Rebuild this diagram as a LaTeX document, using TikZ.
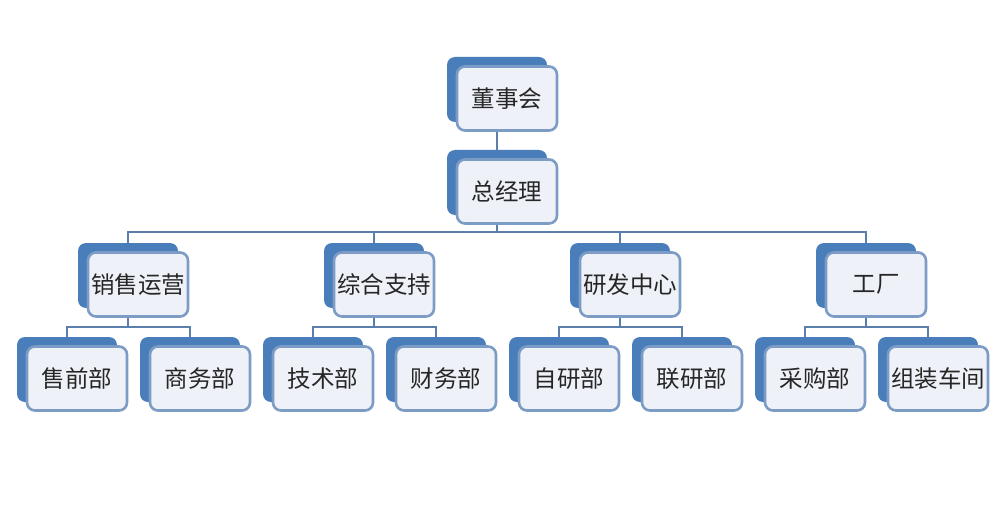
\documentclass[tikz,border=0pt]{standalone}
\usepackage{fontspec}
\newfontfamily\cjk{Noto Sans CJK SC}
\usetikzlibrary{backgrounds}
\definecolor{backblue}{HTML}{4A7EBB}
\definecolor{frontfill}{HTML}{EEF2F8}
\definecolor{frontline}{HTML}{7C9CC6}
\definecolor{linkblue}{HTML}{5B7FAD}
\begin{document}
\begin{tikzpicture}[x=1pt,y=-1pt,
  backbox/.style={rectangle,rounded corners=8pt,fill=backblue,minimum width=100pt,minimum height=65pt,inner sep=0pt},
  frontbox/.style={rectangle,rounded corners=8pt,fill=frontfill,draw=frontline,line width=2.6pt,minimum width=100pt,minimum height=64pt,inner sep=0pt,font=\cjk\fontsize{23.5}{25}\selectfont,text=black!85},
  link/.style={draw=linkblue,line width=2.8pt}]
\useasboundingbox (0,0) rectangle (1006,505);
% top
\node[backbox] (b0) at (497,89.5) {};
\node[frontbox] (f0) at (507,98.5) {董事会};
\node[backbox] (b1) at (497,182.5) {};
\node[frontbox] (f1) at (507,191.5) {总经理};
% level 2
\node[backbox] (bA) at (128,275.5) {};
\node[frontbox] (fA) at (138,284.5) {销售运营};
\node[backbox] (bB) at (374,275.5) {};
\node[frontbox] (fB) at (384,284.5) {综合支持};
\node[backbox] (bC) at (620,275.5) {};
\node[frontbox] (fC) at (630,284.5) {研发中心};
\node[backbox] (bD) at (866,275.5) {};
\node[frontbox] (fD) at (876,284.5) {工厂};
% level 3
\node[backbox] (b31) at (67,369.5) {};
\node[frontbox] (f31) at (77,378.5) {售前部};
\node[backbox] (b32) at (190,369.5) {};
\node[frontbox] (f32) at (200,378.5) {商务部};
\node[backbox] (b33) at (313,369.5) {};
\node[frontbox] (f33) at (323,378.5) {技术部};
\node[backbox] (b34) at (436,369.5) {};
\node[frontbox] (f34) at (446,378.5) {财务部};
\node[backbox] (b35) at (559,369.5) {};
\node[frontbox] (f35) at (569,378.5) {自研部};
\node[backbox] (b36) at (682,369.5) {};
\node[frontbox] (f36) at (692,378.5) {联研部};
\node[backbox] (b37) at (805,369.5) {};
\node[frontbox] (f37) at (815,378.5) {采购部};
\node[backbox] (b38) at (928,369.5) {};
\node[frontbox] (f38) at (938,378.5) {组装车间};
\coordinate (bus1) at (0,232);
\coordinate (bus2) at (0,327);
\begin{scope}[on background layer]
\fill[white] (0,0) rectangle (1006,505);
\draw[link] (b0.center) -- (b1.center);
\foreach \c in {bA,bB,bC,bD}
  \draw[link] (b1.center) -- (b1.center |- bus1) -| (\c.center);
\foreach \p/\c in {bA/b31,bA/b32,bB/b33,bB/b34,bC/b35,bC/b36,bD/b37,bD/b38}
  \draw[link] (\p.center) -- (\p.center |- bus2) -| (\c.center);
\end{scope}
\end{tikzpicture}
\end{document}
